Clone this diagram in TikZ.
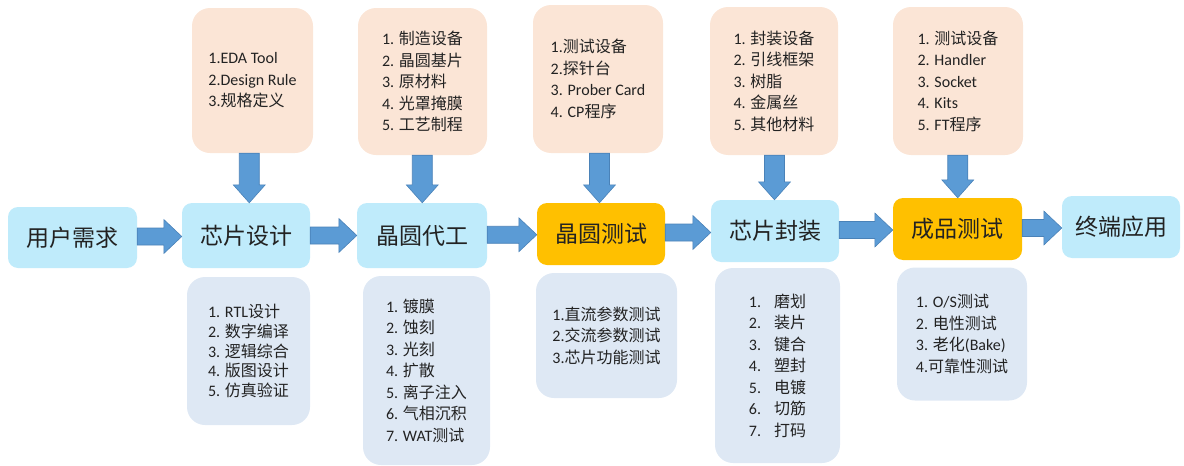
\documentclass[tikz,border=0pt]{standalone}
\usepackage{fontspec}
\setmainfont{Carlito}
\newfontfamily\cjk{Noto Sans CJK SC}
\usetikzlibrary{calc}
\definecolor{peach}{HTML}{FBE5D6}
\definecolor{skyb}{HTML}{BFEBFB}
\definecolor{gold}{HTML}{FFC000}
\definecolor{greyb}{HTML}{DEE8F4}
\definecolor{arrf}{HTML}{5B9BD5}
\definecolor{arrd}{HTML}{4A82B8}
\definecolor{txt}{HTML}{222222}
\newcommand\zh[1]{{\cjk #1}}
\tikzset{
  topbox/.style={fill=peach, rounded corners=18pt, align=left, text=txt,
    font=\fontsize{16}{21.5}\selectfont, inner sep=0pt},
  botbox/.style={fill=greyb, rounded corners=18pt, align=left, text=txt,
    font=\fontsize{16}{21.5}\selectfont, inner sep=0pt},
  mainbox/.style={fill=skyb, rounded corners=10pt, text=txt,
    font=\fontsize{23}{28}\selectfont\cjk, inner sep=0pt},
  hotbox/.style={mainbox, fill=gold},
  blockarr/.style={fill=arrf, draw=arrd, line width=0.6pt, line join=miter}
}
\newcommand\rarr[2]{\filldraw[blockarr] let \p1=(#1.east), \p2=(#2.west), \p3=($(\p1)!.5!(\p2)$) in
  ({\x1},{\y3+8.5pt}) -- ({\x2-18pt},{\y3+8.5pt}) -- ({\x2-18pt},{\y3+17pt}) -- ({\x2},{\y3})
  -- ({\x2-18pt},{\y3-17pt}) -- ({\x2-18pt},{\y3-8.5pt}) -- ({\x1},{\y3-8.5pt}) -- cycle;}
\newcommand\darr[2]{\filldraw[blockarr] let \p1=(#1.south), \p2=(#2.north), \p3=($(\p1)!.5!(\p2)$) in
  ({\x3-10pt},{\y1}) -- ({\x3-10pt},{\y2+18pt}) -- ({\x3-16pt},{\y2+18pt}) -- ({\x3},{\y2})
  -- ({\x3+16pt},{\y2+18pt}) -- ({\x3+10pt},{\y2+18pt}) -- ({\x3+10pt},{\y1}) -- cycle;}
\begin{document}
\begin{tikzpicture}[x=1pt,y=-1pt]
\useasboundingbox (0,0) rectangle (1184,466);
% main row
\node[mainbox, minimum width=129pt, minimum height=61pt] (user) at (72.5,237.5) {用户需求};
\node[mainbox, minimum width=128pt, minimum height=65pt] (design) at (246,235.5) {芯片设计};
\node[mainbox, minimum width=130pt, minimum height=65pt] (fab) at (422,235.5) {晶圆代工};
\node[hotbox, minimum width=128pt, minimum height=62pt] (wtest) at (601,234) {晶圆测试};
\node[mainbox, minimum width=128pt, minimum height=62pt] (pkg) at (775,231) {芯片封装};
\node[hotbox, minimum width=129pt, minimum height=62pt] (ft) at (957.5,229) {成品测试};
\node[mainbox, minimum width=118pt, minimum height=62pt] (app) at (1121,227) {终端应用};
% top boxes
\node[topbox, minimum width=121pt, minimum height=145pt] (t1) at (252.5,80.5)
  {1.EDA Tool\\2.Design Rule\\3.\zh{规格定义}};
\node[topbox, minimum width=129pt, minimum height=147pt] (t2) at (422.5,81.5)
  {1. \zh{制造设备}\\2. \zh{晶圆基片}\\3. \zh{原材料}\\4. \zh{光罩掩膜}\\5. \zh{工艺制程}};
\node[topbox, minimum width=130pt, minimum height=148pt] (t3) at (598,79)
  {1.\zh{测试设备}\\2.\zh{探针台}\\3. Prober Card\\4. CP\zh{程序}};
\node[topbox, minimum width=128pt, minimum height=148pt] (t4) at (774,81)
  {1. \zh{封装设备}\\2. \zh{引线框架}\\3. \zh{树脂}\\4. \zh{金属丝}\\5. \zh{其他材料}};
\node[topbox, minimum width=130pt, minimum height=148pt] (t5) at (958,81)
  {1. \zh{测试设备}\\2. Handler\\3. Socket\\4. Kits\\5. FT\zh{程序}};
% bottom boxes
\node[botbox, minimum width=123pt, minimum height=148pt, font=\fontsize{16}{19.6}\selectfont] (b1) at (248.5,351)
  {1. RTL\zh{设计}\\2. \zh{数字编译}\\3. \zh{逻辑综合}\\4. \zh{版图设计}\\5. \zh{仿真验证}};
\node[botbox, minimum width=127pt, minimum height=189pt] (b2) at (426.5,370.5)
  {1. \zh{镀膜}\\2. \zh{蚀刻}\\3. \zh{光刻}\\4. \zh{扩散}\\5. \zh{离子注入}\\6. \zh{气相沉积}\\7. WAT\zh{测试}};
\node[botbox, minimum width=141pt, minimum height=125pt] (b3) at (606.5,335.5)
  {1.\zh{直流参数测试}\\2.\zh{交流参数测试}\\3.\zh{芯片功能测试}};
\node[botbox, minimum width=125pt, minimum height=195pt] (b4) at (777.5,365.5)
  {1.\hspace{13pt}\zh{磨划}\\2.\hspace{13pt}\zh{装片}\\3.\hspace{13pt}\zh{键合}\\4.\hspace{13pt}\zh{塑封}\\5.\hspace{13pt}\zh{电镀}\\6.\hspace{13pt}\zh{切筋}\\7.\hspace{13pt}\zh{打码}};
\node[botbox, minimum width=130pt, minimum height=133pt] (b5) at (962,334)
  {1. O/S\zh{测试}\\2. \zh{电性测试}\\3. \zh{老化}(Bake)\\4.\zh{可靠性测试}};
% arrows
\rarr{user}{design}
\rarr{design}{fab}
\rarr{fab}{wtest}
\rarr{wtest}{pkg}
\rarr{pkg}{ft}
\rarr{ft}{app}
\darr{t1}{design}
\darr{t2}{fab}
\darr{t3}{wtest}
\darr{t4}{pkg}
\darr{t5}{ft}
\end{tikzpicture}
\end{document}
